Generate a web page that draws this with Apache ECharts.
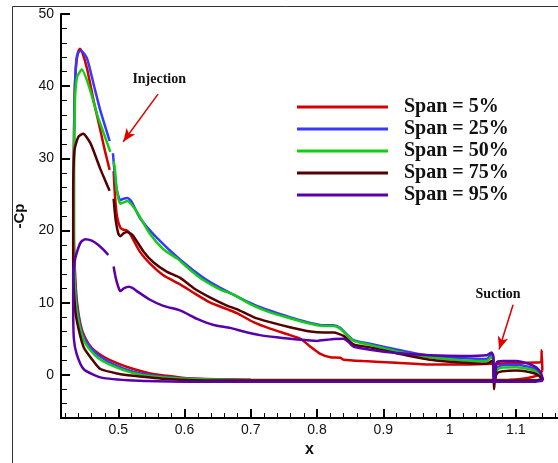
<!DOCTYPE html>
<html>
<head>
<meta charset="utf-8">
<script src="https://cdn.jsdelivr.net/npm/echarts@6/dist/echarts.min.js"></script>
<style>
html, body { margin: 0; padding: 0; background: #fff; }
#chart { width: 558px; height: 463px; }
</style>
</head>
<body>
<div id="chart"></div>
<script>
// -Cp along the blade, each span: pressure side (TE -> LE), suction side up to injection slot, rest of suction side
var pressure5 = [[1.140,0.6],[1.135,0.05],[1.125,-0.3],[1.11,-0.55],[1.09,-0.68],[1.0,-0.72],[0.9,-0.72],[0.8,-0.72],[0.7,-0.7],[0.65,-0.62],[0.6,-0.45],[0.57,-0.1],[0.548,0.2],[0.523,0.8],[0.5,1.55],[0.48,2.4],[0.465,3.3],[0.455,4.3],[0.446,6.0],[0.440,8.5],[0.436,12],[0.433,20]];
var front5 = [[0.433,30],[0.434,38],[0.436,42.5],[0.439,44.6],[0.442,45.2],[0.446,44.6],[0.453,42.4],[0.463,37.9],[0.473,33.9],[0.480,31.0],[0.487,28.4]];
var rear5 = [[0.493,28.2],[0.495,24.9],[0.498,22],[0.503,20.4],[0.508,20.1],[0.513,20.0],[0.518,19.5],[0.525,18.3],[0.533,17.0],[0.548,15.4],[0.568,13.8],[0.594,12.5],[0.614,11.35],[0.639,10.0],[0.664,9.1],[0.679,8.55],[0.704,7.3],[0.729,6.4],[0.759,5.5],[0.775,5.0],[0.79,3.9],[0.805,2.9],[0.820,2.43],[0.835,2.35],[0.840,2.1],[0.870,1.9],[0.920,1.67],[0.971,1.44],[1.021,1.44],[1.061,1.53],[1.066,1.55],[1.068,1.0],[1.071,1.5],[1.10,1.65],[1.13,1.7],[1.138,1.75],[1.139,3.4],[1.140,0.6]];

var pressure25 = [[1.141,-0.6],[1.13,-0.75],[1.0,-0.75],[0.9,-0.75],[0.8,-0.75],[0.7,-0.72],[0.6,-0.5],[0.55,-0.05],[0.52,0.5],[0.49,1.6],[0.47,2.7],[0.458,3.8],[0.448,5.2],[0.441,7.5],[0.436,11],[0.433,18]];
var front25 = [[0.433,30],[0.434,38],[0.435,41],[0.437,43.8],[0.440,44.7],[0.444,44.9],[0.453,43.8],[0.463,40.2],[0.473,36.6],[0.480,34.5],[0.487,32.4]];
var rear25 = [[0.492,30.7],[0.495,27.5],[0.498,25.5],[0.503,24.2],[0.508,24.4],[0.514,24.5],[0.520,24.0],[0.533,21.7],[0.558,19.0],[0.594,15.9],[0.629,13.4],[0.659,11.8],[0.709,9.55],[0.759,8.0],[0.790,7.2],[0.810,6.85],[0.825,6.85],[0.835,6.5],[0.840,6.05],[0.855,4.8],[0.880,4.3],[0.920,3.5],[0.971,2.6],[1.021,2.3],[1.056,2.2],[1.063,2.8],[1.066,2.3],[1.067,-0.8],[1.069,-0.6],[1.072,1.0],[1.08,1.35],[1.10,1.4],[1.12,1.1],[1.131,0.7],[1.141,-0.6]];

var pressure50 = [[1.141,-0.6],[1.13,-0.78],[1.0,-0.78],[0.8,-0.78],[0.7,-0.75],[0.6,-0.55],[0.55,-0.2],[0.52,0.3],[0.49,1.3],[0.47,2.3],[0.458,3.4],[0.448,4.8],[0.441,7],[0.436,10],[0.433,17]];
var front50 = [[0.433,28],[0.434,35],[0.435,38.8],[0.438,41.3],[0.445,42.3],[0.455,40.2],[0.468,36.1],[0.478,33.5],[0.488,30.9]];
var rear50 = [[0.493,29.6],[0.495,28.5],[0.498,25.5],[0.503,23.7],[0.508,23.9],[0.514,24.1],[0.520,23.6],[0.528,22.6],[0.548,19.5],[0.568,17.4],[0.589,16.1],[0.609,14.5],[0.629,13.1],[0.654,11.8],[0.674,11.1],[0.699,9.8],[0.729,8.65],[0.759,7.84],[0.790,7.07],[0.810,6.76],[0.825,6.76],[0.835,6.4],[0.840,5.95],[0.855,4.7],[0.880,4.15],[0.920,3.24],[0.971,2.43],[1.021,1.98],[1.056,1.9],[1.064,2.5],[1.066,2.0],[1.067,-0.8],[1.069,-0.6],[1.072,0.7],[1.08,1.0],[1.10,1.05],[1.12,0.8],[1.131,0.4],[1.141,-0.6]];

var pressure75 = [[1.141,-0.6],[1.13,-0.8],[1.0,-0.8],[0.8,-0.8],[0.65,-0.8],[0.573,-0.58],[0.523,-0.13],[0.5,0.15],[0.473,0.8],[0.46,2.2],[0.448,3.8],[0.440,6.4],[0.435,9],[0.432,15]];
var front75 = [[0.432,25],[0.434,31.2],[0.440,33.0],[0.447,33.4],[0.458,32.1],[0.473,28.5],[0.480,27.0],[0.487,25.5]];
var rear75 = [[0.493,24.4],[0.496,21.5],[0.500,19.6],[0.503,19.2],[0.508,19.6],[0.513,19.8],[0.518,19.6],[0.523,19.2],[0.538,17.1],[0.553,15.6],[0.573,14.3],[0.594,13.4],[0.614,12.0],[0.639,10.7],[0.664,9.6],[0.679,9.1],[0.704,8.0],[0.729,7.3],[0.759,6.6],[0.790,6.0],[0.810,5.85],[0.825,5.85],[0.840,5.4],[0.855,4.2],[0.880,3.8],[0.920,3.0],[0.971,2.1],[1.021,1.67],[1.056,1.53],[1.064,1.9],[1.066,1.5],[1.067,-2.0],[1.069,-0.3],[1.073,0.3],[1.08,0.5],[1.10,0.6],[1.12,0.4],[1.131,0.1],[1.141,-0.6]];

var pressure95 = [[1.141,-0.8],[1.13,-0.95],[1.0,-0.95],[0.8,-0.95],[0.6,-0.95],[0.523,-0.8],[0.473,-0.36],[0.448,0.77],[0.4375,2.8],[0.433,5],[0.432,10]];
var front95 = [[0.432,14],[0.434,15.6],[0.437,16.8],[0.443,18.3],[0.450,18.8],[0.460,18.6],[0.470,18.0],[0.478,17.3],[0.485,16.6]];
var rear95 = [[0.493,15.0],[0.496,13.5],[0.500,12.2],[0.503,11.6],[0.509,12.0],[0.516,12.2],[0.522,12.0],[0.528,11.6],[0.548,10.4],[0.568,9.55],[0.594,8.9],[0.619,7.75],[0.644,6.9],[0.669,6.5],[0.689,6.0],[0.714,5.5],[0.739,5.2],[0.770,4.9],[0.800,4.7],[0.815,4.85],[0.825,4.95],[0.840,5.0],[0.848,4.5],[0.855,3.9],[0.880,3.47],[0.920,3.02],[0.971,2.7],[1.021,2.6],[1.056,2.7],[1.063,3.1],[1.066,2.6],[1.067,-0.9],[1.069,-0.8],[1.071,1.7],[1.08,1.9],[1.10,1.9],[1.12,1.5],[1.131,1.0],[1.138,0.2],[1.141,-0.8]];

var spanNames = ["Span = 5%", "Span = 25%", "Span = 50%", "Span = 75%", "Span = 95%"];
var spanColors = ["#d40000", "#3838ff", "#14cc14", "#550000", "#5a00aa"];

var xMajor = [0.5, 0.6, 0.7, 0.8, 0.9, 1.0, 1.1];
var yMajor = [0, 10, 20, 30, 40, 50];
var xMinor = [];
for (var i = 21; i <= 58; i++) xMinor.push(i / 50);
var yMinor = [];
for (var j = -3; j <= 25; j++) yMinor.push(j * 2);

// annotations (data coordinates)
var injectionArrow = [[0.560, 38.9], [0.5075, 32.3]];
var suctionArrow = [[1.0958, 9.7], [1.0747, 3.5]];
var injectionText = [0.5618, 41.0];
var suctionText = [1.0731, 11.2];

function join(p, f, r) {
  return p.concat(f, [[null, null]], r);
}
var allData = [
  join(pressure5, front5, rear5),
  join(pressure25, front25, rear25),
  join(pressure50, front50, rear50),
  join(pressure75, front75, rear75),
  join(pressure95, front95, rear95)
];

var myChart = echarts.init(document.getElementById("chart"));
var tickFont = { color: "#111", fontSize: 14, fontFamily: "Liberation Sans" };
var xMin = 0.4136, xMax = 1.1636;

var series = allData.map(function (d, k) {
  return {
    name: spanNames[k],
    type: "line",
    data: d,
    symbol: "none",
    smooth: 0.2,
    connectNulls: false,
    color: spanColors[k],
    lineStyle: { width: 2.5, color: spanColors[k] }
  };
});
series[0].markLine = {
  silent: true,
  symbol: ["none", "arrow"],
  symbolSize: [8, 13],
  label: { show: false },
  lineStyle: { color: "#e00000", width: 1.5, type: "solid" },
  data: [
    [{ coord: injectionArrow[0] }, { coord: injectionArrow[1] }],
    [{ coord: suctionArrow[0] }, { coord: suctionArrow[1] }]
  ]
};
series[0].markPoint = {
  silent: true,
  symbol: "rect",
  symbolSize: 1,
  itemStyle: { color: "transparent" },
  label: {
    show: true,
    position: "inside",
    color: "#111",
    fontFamily: "Liberation Serif",
    fontWeight: "bold",
    fontSize: 14,
    formatter: "{b}"
  },
  data: [
    { name: "Injection", coord: injectionText },
    { name: "Suction", coord: suctionText }
  ]
};

var option = {
  animation: false,
  backgroundColor: "#fff",
  graphic: [
    {
      type: "rect",
      z: -1,
      shape: { x: 12.5, y: 6.5, width: 700, height: 700 },
      style: { fill: "none", stroke: "#333", lineWidth: 1 }
    }
  ],
  legend: {
    orient: "vertical",
    left: 297,
    top: 97,
    padding: 0,
    icon: "rect",
    itemWidth: 91,
    itemHeight: 3,
    itemGap: 2,
    data: spanNames,
    textStyle: {
      color: "#111",
      fontFamily: "Liberation Serif",
      fontWeight: "bold",
      fontSize: 20,
      lineHeight: 20,
      padding: [0, 0, 0, 11]
    }
  },
  grid: { left: 61, right: 0, top: 14, bottom: 35 },
  xAxis: [
    {
      type: "value",
      min: xMin,
      max: xMax,
      position: "bottom",
      name: "x",
      nameLocation: "middle",
      nameGap: 19,
      nameTextStyle: { color: "#111", fontSize: 16, fontWeight: "bold", fontFamily: "Liberation Sans" },
      axisLine: { onZero: false, lineStyle: { color: "#000", width: 2 } },
      axisTick: { inside: true, length: 9, customValues: xMajor, lineStyle: { color: "#000", width: 2 } },
      axisLabel: Object.assign({ customValues: xMajor, margin: 5 }, tickFont),
      splitLine: { show: false }
    },
    {
      type: "value",
      min: xMin,
      max: xMax,
      position: "bottom",
      axisLine: { show: false, onZero: false },
      axisTick: { inside: true, length: 5, customValues: xMinor, lineStyle: { color: "#000", width: 1 } },
      axisLabel: { show: false },
      splitLine: { show: false }
    }
  ],
  yAxis: [
    {
      type: "value",
      min: -6,
      max: 50,
      position: "left",
      name: "-Cp",
      nameLocation: "middle",
      nameRotate: 90,
      nameGap: 26,
      nameTextStyle: { color: "#111", fontSize: 15, fontWeight: "bold", fontFamily: "Liberation Sans" },
      axisLine: { onZero: false, lineStyle: { color: "#000", width: 2 } },
      axisTick: { inside: true, length: 9, customValues: yMajor, lineStyle: { color: "#000", width: 2 } },
      axisLabel: Object.assign({ customValues: yMajor, margin: 7 }, tickFont),
      splitLine: { show: false }
    },
    {
      type: "value",
      min: -6,
      max: 50,
      position: "left",
      axisLine: { show: false, onZero: false },
      axisTick: { inside: true, length: 6, customValues: yMinor, lineStyle: { color: "#000", width: 1 } },
      axisLabel: { show: false },
      splitLine: { show: false }
    }
  ],
  series: series
};

myChart.setOption(option);
</script>
</body>
</html>
